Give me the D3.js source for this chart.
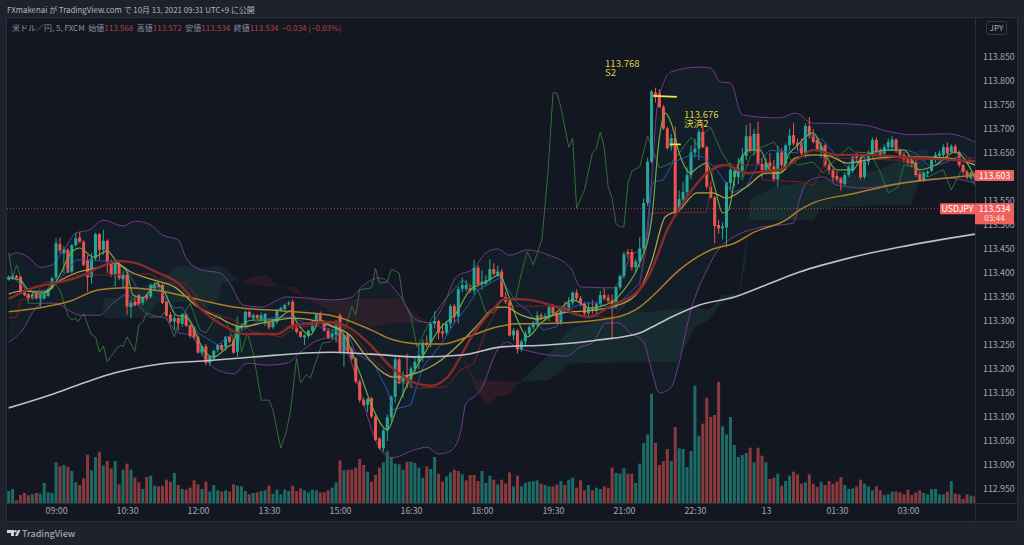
<!DOCTYPE html>
<html>
<head>
<meta charset="utf-8">
<script src="https://cdn.jsdelivr.net/npm/d3@7"></script>
<style>
html, body { margin: 0; padding: 0; background: #1e222d; overflow: hidden; }
text { font-family: "Noto Sans CJK JP", "Noto Sans", sans-serif; }
</style>
</head>
<body>
<div id="chart"></div>
<script>
const width = 1024;
const height = 545;

// 5 minute bars
const opens = [
113.386,113.388,113.394,113.392,113.361,113.356,113.347,113.356,113.347,113.347,
113.352,113.368,113.391,113.460,113.441,113.448,113.403,113.458,113.474,113.465,
113.427,113.392,113.431,113.481,113.448,113.467,113.422,113.396,113.419,113.387,
113.396,113.329,113.340,113.354,113.338,113.354,113.351,113.368,113.375,113.375,
113.340,113.313,113.299,113.306,113.294,113.314,113.291,113.288,113.267,113.234,
113.247,113.213,113.222,113.240,113.250,113.246,113.267,113.259,113.236,113.285,
113.292,113.319,113.306,113.312,113.304,113.296,113.296,113.287,113.298,113.323,
113.325,113.336,113.340,113.287,113.278,113.266,113.269,113.280,113.295,113.315,
113.295,113.280,113.267,113.271,113.312,113.236,113.273,113.241,113.222,113.174,
113.135,113.125,113.139,113.101,113.055,113.035,113.072,113.099,113.142,113.220,
113.170,113.187,113.178,113.201,113.215,113.229,113.255,113.255,113.294,113.300,
113.278,113.276,113.295,113.331,113.309,113.367,113.367,113.368,113.363,113.411,
113.377,113.378,113.385,113.408,113.396,113.403,113.350,113.340,113.270,113.280,
113.241,113.257,113.274,113.287,113.293,113.312,113.307,113.309,113.329,113.316,
113.297,113.326,113.322,113.338,113.359,113.347,113.337,113.316,113.328,113.321,
113.335,113.354,113.349,113.343,113.331,113.370,113.394,113.444,113.444,113.412,
113.424,113.451,113.546,113.632,113.776,113.774,113.746,113.701,113.663,113.681,
113.533,113.553,113.569,113.604,113.651,113.659,113.694,113.662,113.580,113.557,
113.500,113.493,113.495,113.587,113.600,113.600,113.613,113.644,113.685,113.656,
113.690,113.627,113.615,113.630,113.622,113.595,113.651,113.627,113.666,113.687,
113.671,113.670,113.649,113.706,113.687,113.677,113.656,113.666,113.625,113.614,
113.602,113.597,113.585,113.604,113.613,113.643,113.639,113.600,113.632,113.646,
113.677,113.655,113.649,113.662,113.662,113.678,113.656,113.646,113.639,113.635,
113.630,113.606,113.593,113.607,113.613,113.637,113.644,113.646,113.662,113.652,
113.664,113.652,113.625,113.611,113.599,113.607];
const highs = [
113.395,113.397,113.396,113.394,113.363,113.358,113.358,113.358,113.356,113.357,
113.368,113.392,113.472,113.474,113.456,113.452,113.460,113.483,113.485,113.468,
113.437,113.441,113.484,113.483,113.490,113.470,113.428,113.424,113.425,113.405,
113.402,113.345,113.352,113.356,113.352,113.357,113.378,113.380,113.382,113.379,
113.342,113.318,113.312,113.308,113.316,113.316,113.293,113.290,113.270,113.250,
113.252,113.228,113.240,113.252,113.254,113.268,113.270,113.262,113.290,113.295,
113.322,113.322,113.316,113.314,113.318,113.316,113.300,113.304,113.325,113.330,
113.336,113.342,113.345,113.290,113.280,113.272,113.282,113.300,113.316,113.320,
113.300,113.285,113.282,113.302,113.316,113.272,113.276,113.246,113.225,113.178,
113.140,113.140,113.142,113.105,113.058,113.075,113.105,113.145,113.225,113.224,
113.195,113.232,113.205,113.225,113.250,113.262,113.270,113.297,113.320,113.303,
113.295,113.300,113.335,113.335,113.372,113.390,113.385,113.375,113.428,113.416,
113.405,113.395,113.428,113.420,113.415,113.408,113.360,113.343,113.285,113.283,
113.262,113.280,113.292,113.300,113.320,113.317,113.316,113.332,113.335,113.320,
113.326,113.340,113.350,113.362,113.366,113.352,113.340,113.340,113.344,113.340,
113.362,113.368,113.355,113.355,113.372,113.396,113.445,113.450,113.450,113.430,
113.475,113.555,113.640,113.781,113.786,113.783,113.750,113.705,113.690,113.705,
113.572,113.590,113.620,113.665,113.680,113.700,113.712,113.665,113.590,113.560,
113.510,113.505,113.590,113.630,113.620,113.640,113.660,113.708,113.712,113.700,
113.715,113.640,113.640,113.650,113.635,113.665,113.660,113.670,113.700,113.712,
113.680,113.680,113.712,113.725,113.700,113.682,113.672,113.670,113.630,113.618,
113.612,113.600,113.610,113.625,113.645,113.650,113.645,113.640,113.655,113.682,
113.682,113.660,113.668,113.680,113.685,113.680,113.660,113.652,113.645,113.640,
113.640,113.610,113.612,113.615,113.640,113.652,113.655,113.668,113.672,113.668,
113.668,113.655,113.628,113.615,113.612,113.612];
const lows = [
113.384,113.386,113.388,113.362,113.352,113.342,113.345,113.345,113.329,113.345,
113.350,113.366,113.386,113.440,113.400,113.399,113.399,113.455,113.462,113.414,
113.361,113.378,113.425,113.428,113.438,113.400,113.392,113.372,113.385,113.368,
113.313,113.306,113.330,113.333,113.332,113.342,113.347,113.362,113.368,113.335,
113.308,113.296,113.282,113.280,113.288,113.288,113.264,113.262,113.232,113.228,
113.208,113.206,113.218,113.234,113.238,113.238,113.254,113.232,113.226,113.280,
113.285,113.306,113.300,113.304,113.298,113.290,113.282,113.283,113.293,113.320,
113.322,113.332,113.283,113.274,113.265,113.250,113.264,113.276,113.290,113.300,
113.278,113.262,113.262,113.255,113.232,113.205,113.232,113.218,113.170,113.130,
113.122,113.110,113.098,113.050,113.032,113.028,113.050,113.090,113.130,113.168,
113.140,113.160,113.160,113.190,113.200,113.215,113.245,113.245,113.285,113.262,
113.265,113.270,113.285,113.295,113.295,113.360,113.362,113.358,113.355,113.370,
113.365,113.372,113.380,113.395,113.392,113.350,113.335,113.268,113.260,113.232,
113.236,113.250,113.268,113.282,113.288,113.302,113.300,113.300,113.312,113.295,
113.292,113.318,113.316,113.332,113.342,113.330,113.312,113.310,113.315,113.316,
113.330,113.343,113.338,113.264,113.325,113.365,113.388,113.430,113.405,113.400,
113.412,113.445,113.540,113.628,113.755,113.745,113.698,113.657,113.655,113.520,
113.525,113.545,113.555,113.595,113.640,113.635,113.660,113.575,113.555,113.462,
113.482,113.470,113.455,113.570,113.580,113.585,113.600,113.635,113.650,113.645,
113.625,113.600,113.605,113.610,113.590,113.580,113.620,113.615,113.655,113.665,
113.655,113.645,113.640,113.680,113.670,113.655,113.640,113.620,113.605,113.590,
113.590,113.572,113.582,113.600,113.608,113.630,113.595,113.596,113.625,113.642,
113.650,113.640,113.645,113.655,113.655,113.650,113.638,113.630,113.625,113.620,
113.600,113.590,113.590,113.600,113.610,113.630,113.640,113.640,113.640,113.648,
113.648,113.620,113.605,113.595,113.595,113.590];
const closes = [
113.392,113.394,113.390,113.363,113.354,113.347,113.356,113.347,113.354,113.355,
113.366,113.389,113.462,113.447,113.449,113.401,113.458,113.472,113.465,113.417,
113.391,113.430,113.481,113.448,113.467,113.424,113.396,113.419,113.389,113.398,
113.330,113.338,113.333,113.336,113.349,113.347,113.375,113.375,113.370,113.338,
113.311,113.299,113.306,113.295,113.314,113.290,113.269,113.266,113.234,113.248,
113.213,113.227,113.238,113.250,113.240,113.267,113.257,113.234,113.290,113.290,
113.319,113.309,113.312,113.306,113.312,113.315,113.287,113.298,113.323,113.327,
113.333,113.337,113.288,113.277,113.267,113.270,113.280,113.296,113.316,113.302,
113.280,113.266,113.274,113.293,113.236,113.271,113.236,113.222,113.174,113.135,
113.125,113.137,113.101,113.052,113.035,113.072,113.099,113.142,113.220,113.170,
113.187,113.177,113.201,113.215,113.229,113.255,113.250,113.294,113.300,113.276,
113.274,113.294,113.331,113.309,113.366,113.375,113.375,113.363,113.411,113.377,
113.382,113.385,113.408,113.398,113.403,113.350,113.340,113.270,113.280,113.241,
113.257,113.274,113.287,113.294,113.312,113.308,113.310,113.329,113.316,113.297,
113.322,113.322,113.338,113.359,113.347,113.337,113.316,113.328,113.321,113.335,
113.354,113.347,113.342,113.331,113.370,113.394,113.439,113.439,113.412,113.424,
113.451,113.546,113.632,113.778,113.766,113.745,113.701,113.660,113.681,113.524,
113.554,113.569,113.604,113.651,113.659,113.694,113.662,113.580,113.557,113.498,
113.493,113.497,113.588,113.615,113.612,113.618,113.644,113.685,113.656,113.690,
113.627,113.615,113.630,113.622,113.595,113.651,113.625,113.666,113.686,113.670,
113.666,113.649,113.706,113.685,113.673,113.657,113.664,113.625,113.614,113.599,
113.595,113.587,113.604,113.621,113.642,113.639,113.599,113.632,113.649,113.677,
113.655,113.646,113.662,113.673,113.678,113.656,113.646,113.637,113.630,113.628,
113.604,113.593,113.609,113.611,113.637,113.646,113.649,113.662,113.649,113.664,
113.652,113.625,113.611,113.599,113.609,113.597];

// volume bar heights, arbitrary units
const volumes = [
36,42,8,24,30,23,26,30,28,60,32,30,122,110,114,108,96,62,54,74,
145,98,138,154,112,126,104,126,56,100,118,100,76,62,42,78,82,52,50,52,
70,64,90,54,42,40,46,68,56,42,64,34,54,38,34,38,34,56,52,50,
36,26,30,32,36,38,52,28,40,26,40,36,52,36,44,38,32,40,38,32,
32,38,46,62,128,98,100,100,106,132,114,94,64,84,106,122,155,136,118,116,
100,124,124,120,106,76,110,102,138,88,64,80,92,100,96,86,68,84,84,66,
96,60,82,70,56,70,58,92,50,82,50,60,64,66,68,58,54,50,50,56,
66,54,70,76,46,68,38,54,38,46,42,50,46,106,90,88,104,88,88,60,
118,180,206,328,180,114,126,162,126,228,164,162,108,156,352,202,238,316,258,264,
364,230,206,258,174,138,144,150,166,122,166,142,122,72,76,88,52,66,82,94,
86,58,62,86,58,48,64,54,66,58,64,78,54,42,44,50,70,58,50,38,
50,38,24,26,34,34,32,26,40,24,32,38,30,26,42,42,26,26,34,66,
28,26,12,26,22,20];
// 1 = teal, 0 = red
const volumeUp = [
1,1,0,0,0,0,1,0,1,1,1,1,1,0,1,0,1,1,0,0,
0,1,1,0,1,0,0,1,0,1,0,1,0,0,1,0,1,1,0,0,
0,0,1,0,1,0,0,0,0,1,0,1,1,1,0,1,0,0,1,1,
1,0,1,0,1,1,0,1,1,1,1,1,0,0,0,1,1,1,1,0,
0,0,1,1,0,1,0,0,0,0,0,1,0,0,0,1,1,1,1,1,
1,0,1,1,1,1,0,1,1,0,0,1,1,0,0,1,0,0,0,0,
1,1,1,0,1,0,0,0,1,0,1,1,1,1,1,0,1,1,0,0,
1,0,1,1,0,0,0,1,0,1,1,0,0,0,1,1,1,0,0,1,
1,1,1,1,0,0,0,0,1,0,1,1,1,1,1,1,0,0,0,0,
0,1,1,1,1,1,1,1,0,1,0,0,1,0,0,1,0,1,1,0,
0,0,1,0,0,0,1,0,0,0,0,0,1,1,1,0,0,1,1,1,
0,0,1,1,1,0,0,0,0,0,0,0,1,1,1,1,1,1,0,1,
0,0,0,0,1,0];

// indicator lines as [bar, price]
const sma200 = [[0,113.119],[10.5,113.146],[19,113.171],[27,113.192],[38,113.210],[50,113.217],[62,113.225],[81.5,113.235],[92,113.231],[104,113.225],[115,113.229],[125,113.246],[136.5,113.250],[149,113.260],[160,113.275],[163,113.287],[169,113.312],[175,113.333],[184,113.350],[192,113.375],[200.5,113.402],[213,113.431],[226,113.454],[245,113.481]];
const ema100 = [[0,113.319],[9,113.329],[15,113.340],[23,113.365],[30,113.369],[38,113.363],[48.5,113.344],[57,113.329],[69.5,113.321],[81.5,113.312],[92,113.281],[97,113.262],[105,113.252],[110,113.252],[117,113.269],[124,113.288],[129,113.294],[140.5,113.296],[153,113.306],[160,113.329],[163,113.350],[170,113.406],[178,113.448],[184,113.462],[189,113.485],[197,113.510],[200.5,113.531],[204,113.546],[214,113.565],[225,113.585],[238,113.598],[245,113.604]];
const ema50 = [[0,113.346],[7,113.371],[12,113.379],[19,113.396],[23,113.412],[28,113.425],[32,113.421],[38,113.400],[43,113.379],[48.5,113.327],[55,113.288],[59.5,113.273],[68,113.273],[72,113.290],[81.5,113.298],[86,113.288],[91,113.256],[97,113.204],[103,113.171],[107,113.165],[111,113.181],[118,113.275],[122,113.317],[126,113.346],[132,113.344],[139,113.329],[147,113.308],[153,113.333],[160,113.365],[163,113.406],[167,113.490],[171,113.546],[177,113.608],[182,113.625],[187,113.608],[192,113.612],[195.5,113.615],[200.5,113.640],[204,113.656],[210,113.646],[217,113.646],[229,113.640],[245,113.633]];
const ema20 = [[0,113.356],[3,113.362],[9,113.360],[12,113.379],[17,113.400],[23,113.412],[27,113.421],[31,113.402],[36,113.387],[42,113.371],[48,113.329],[53,113.308],[59,113.288],[64.5,113.296],[72,113.306],[79,113.298],[81.5,113.290],[86.5,113.271],[90,113.233],[95,113.192],[97.5,113.183],[103.5,113.192],[108.5,113.212],[113.5,113.246],[118.5,113.288],[124,113.329],[126,113.329],[130,113.312],[134,113.304],[140.5,113.317],[149,113.323],[157.5,113.344],[160,113.365],[163,113.423],[166.5,113.517],[170,113.531],[174.5,113.567],[178.5,113.567],[182,113.556],[187,113.579],[192,113.608],[195.5,113.608],[199.5,113.640],[204,113.646],[208,113.644],[212.5,113.629],[221,113.640],[229,113.642],[238,113.640],[245,113.625]];
const ema8 = [[0,113.390],[3,113.385],[4.5,113.369],[8,113.356],[10.5,113.365],[13,113.396],[16,113.444],[18,113.452],[21.5,113.433],[25,113.446],[27.5,113.421],[30,113.402],[31.5,113.354],[34,113.348],[37.5,113.379],[39.5,113.360],[42.5,113.312],[45,113.308],[50,113.233],[52,113.225],[55.5,113.246],[57,113.254],[58,113.281],[62,113.302],[65.5,113.302],[68,113.304],[71.5,113.321],[73,113.298],[76.5,113.271],[79,113.302],[81.5,113.292],[85,113.271],[89,113.192],[92.5,113.115],[96,113.073],[98.5,113.121],[102,113.183],[106,113.240],[109,113.281],[113.5,113.317],[117,113.365],[121,113.381],[124.5,113.396],[126.5,113.358],[129,113.302],[131.5,113.267],[135,113.296],[139,113.319],[143,113.344],[147.5,113.327],[153,113.340],[156,113.365],[160,113.421],[163,113.510],[165,113.683],[166.5,113.733],[168,113.712],[170,113.650],[173,113.608],[174,113.615],[177,113.629],[179,113.579],[181,113.525],[182.5,113.531],[184.5,113.615],[188,113.656],[190.5,113.656],[193,113.615],[195.5,113.608],[198,113.650],[199.5,113.662],[204,113.692],[206.5,113.656],[210,113.615],[214,113.615],[216.5,113.642],[222.5,113.656],[227,113.656],[231,113.615],[235,113.625],[240,113.652],[245,113.600]];
const tenkan = [[0,113.390],[1,113.392],[4,113.369],[6,113.362],[10.5,113.365],[15,113.406],[17,113.427],[21.5,113.427],[27.5,113.421],[30,113.406],[32.5,113.369],[35,113.365],[37.5,113.375],[40,113.344],[42,113.327],[44,113.329],[48,113.275],[53,113.250],[55.5,113.267],[57,113.271],[64,113.302],[68,113.308],[72,113.308],[75,113.296],[79,113.288],[86,113.275],[88,113.233],[92.5,113.212],[96,113.156],[97.5,113.115],[102,113.125],[105,113.204],[109.5,113.250],[113,113.296],[116,113.327],[119,113.365],[124.5,113.390],[129,113.337],[131.5,113.323],[135.5,113.281],[139,113.288],[140.5,113.319],[145.5,113.337],[150,113.337],[153,113.323],[160,113.379],[162,113.483],[163,113.579],[163.5,113.590],[166,113.594],[168.5,113.631],[173,113.646],[176,113.642],[179.5,113.615],[183.5,113.567],[187,113.579],[190.5,113.635],[193,113.656],[200,113.650],[202.5,113.688],[206.5,113.677],[210,113.642],[212.5,113.621],[217.5,113.642],[222.5,113.656],[227.5,113.656],[230,113.650],[233.5,113.621],[238,113.631],[242,113.650],[245,113.625]];
const kijun = [[0,113.306],[2,113.308],[3,113.344],[6,113.348],[9,113.381],[12,113.381],[15.5,113.396],[24,113.396],[36,113.398],[39,113.379],[45,113.379],[49,113.337],[51,113.319],[57,113.302],[62,113.277],[69,113.267],[72.5,113.285],[81.5,113.296],[86.5,113.281],[92.5,113.219],[98.5,113.177],[103.5,113.160],[111,113.163],[114.5,113.198],[118,113.212],[121,113.281],[124,113.327],[128,113.331],[141,113.331],[145.5,113.312],[153,113.306],[160,113.371],[161.5,113.442],[163,113.525],[177,113.527],[178.5,113.608],[179,113.625],[190.5,113.625],[191,113.594],[200.5,113.590],[204,113.583],[206.5,113.621],[207,113.640],[226,113.635],[245,113.640]];
const bbUpper = [[0,113.435],[2,113.442],[5,113.433],[8,113.412],[11,113.417],[14,113.448],[17,113.483],[20.5,113.490],[24,113.510],[29,113.498],[32,113.508],[36,113.500],[39,113.479],[43,113.469],[45,113.431],[49,113.406],[53.5,113.400],[56,113.379],[59.5,113.333],[64,113.329],[70.5,113.350],[75,113.348],[81.5,113.344],[86.5,113.348],[90,113.375],[94,113.390],[98.5,113.360],[103.5,113.302],[107,113.296],[110,113.329],[113.5,113.392],[118,113.410],[121,113.442],[124,113.450],[127,113.437],[131.5,113.448],[137,113.437],[142.5,113.410],[145,113.371],[153,113.369],[156,113.400],[157.5,113.433],[161,113.454],[163,113.594],[164.5,113.750],[168,113.819],[175,113.829],[178,113.827],[180.5,113.798],[183,113.796],[186,113.729],[195.5,113.723],[199.5,113.733],[204,113.712],[206.5,113.712],[217,113.708],[223.5,113.694],[229,113.688],[238,113.690],[245,113.673]];
const bbLower = [[0,113.256],[4,113.287],[6,113.317],[9,113.337],[12,113.337],[15,113.323],[18,113.312],[23,113.312],[26.5,113.337],[30,113.354],[33.5,113.327],[36,113.308],[39,113.308],[43,113.275],[46,113.271],[50,113.219],[53,113.198],[57,113.190],[60.5,113.212],[65.5,113.208],[70.5,113.212],[74,113.235],[77,113.254],[81.5,113.265],[85,113.250],[89,113.156],[93,113.052],[95,113.025],[97,113.015],[103.5,113.033],[106,113.037],[109,113.023],[112,113.029],[114.5,113.067],[116,113.129],[118,113.142],[119.5,113.154],[124,113.240],[126.5,113.256],[128.5,113.246],[132,113.237],[137,113.229],[141.5,113.227],[145,113.246],[148,113.254],[151.5,113.296],[154.5,113.296],[157.5,113.275],[161,113.256],[163,113.198],[165,113.150],[168,113.162],[169.5,113.198],[173,113.323],[177,113.406],[180.5,113.454],[190,113.494],[195.5,113.500],[199,113.504],[200.5,113.552],[202.5,113.590],[206.5,113.600],[210,113.583],[217,113.577],[225.5,113.587],[238,113.598],[245,113.587]];
const lagging = [[0,113.442],[1,113.390],[2,113.417],[3.5,113.381],[5,113.337],[8,113.337],[9.5,113.360],[11,113.385],[13,113.365],[15,113.312],[16,113.302],[17,113.306],[17.5,113.298],[19,113.315],[21,113.271],[22,113.267],[23,113.235],[24,113.248],[25,113.215],[27.5,113.244],[28.5,113.250],[29,113.246],[30,113.267],[32,113.237],[33,113.292],[34,113.298],[35,113.317],[36.5,113.312],[38.5,113.308],[39.5,113.319],[42,113.267],[43,113.296],[44,113.308],[46,113.337],[48.5,113.281],[50,113.275],[53,113.315],[54.5,113.302],[55.5,113.292],[57,113.260],[58,113.310],[59,113.235],[60.5,113.275],[62,113.233],[64,113.135],[66,113.135],[67,113.115],[68,113.073],[69,113.035],[70.5,113.073],[71.5,113.115],[73,113.223],[74,113.171],[75.5,113.188],[76.5,113.181],[79.5,113.254],[81.5,113.256],[85.5,113.287],[87,113.331],[88,113.312],[89,113.365],[92,113.369],[93,113.410],[94,113.379],[96,113.381],[97,113.408],[99,113.400],[100,113.344],[102,113.308],[103.5,113.246],[107,113.302],[110.5,113.344],[115,113.385],[119,113.365],[121,113.317],[123,113.317],[125,113.344],[128.5,113.344],[130,113.400],[131.5,113.444],[133,113.417],[135.2,113.469],[136.8,113.615],[138,113.775],[139,113.775],[140,113.746],[142,113.662],[143,113.681],[144,113.535],[146,113.573],[148,113.650],[149,113.660],[150,113.694],[151,113.662],[152,113.579],[153,113.556],[154,113.502],[155,113.496],[156,113.496],[157,113.587],[158,113.612],[160,113.621],[162,113.685],[163.5,113.652],[165,113.619],[168,113.629],[170,113.650],[173,113.683],[174.5,113.667],[176,113.688],[178,113.704],[180.5,113.656],[182.5,113.629],[186,113.594],[188,113.642],[190.5,113.660],[194,113.673],[195.5,113.656],[200,113.625],[204,113.631],[206.5,113.608],[210,113.640],[213,113.662],[214.5,113.652],[218.5,113.650],[221,113.610],[223,113.567],[225.5,113.579],[227,113.625],[229.5,113.621],[233,113.600],[237,113.615],[239,113.573],[242,113.621],[245,113.583]];

// ichimoku cloud outlines, clockwise as [bar, price]
const cloudGreen1 = [[24,113.348],[27.5,113.348],[30,113.365],[34,113.371],[40,113.396],[43,113.415],[50.5,113.412],[53.5,113.417],[58.5,113.385],[54,113.379],[53,113.344],[49,113.323],[45,113.340],[37.5,113.338],[35,113.306],[24,113.306]];
const cloudRed1 = [[59,113.381],[62,113.392],[65.5,113.396],[68,113.375],[74,113.354],[81.5,113.344],[98.5,113.348],[102.5,113.319],[107,113.296],[96,113.296],[92.5,113.287],[85,113.305],[75.5,113.348],[73,113.371],[65.5,113.371]];
const cloudRed2 = [[112,113.281],[114.5,113.233],[118.5,113.177],[129.5,113.173],[127,113.146],[124,113.142],[121,113.125],[118.5,113.156]];
const cloudGreen2 = [[129.5,113.173],[135.5,113.219],[142.5,113.285],[149,113.298],[157.5,113.317],[163,113.319],[166.5,113.323],[173.5,113.329],[177.5,113.323],[181,113.354],[185,113.356],[187.5,113.496],[188,113.552],[194,113.579],[206,113.594],[221,113.615],[231,113.656],[233,113.658],[233,113.642],[231,113.594],[229,113.542],[221,113.542],[206.5,113.535],[206,113.531],[204,113.510],[187.5,113.510],[187,113.427],[185,113.348],[181,113.340],[177.5,113.302],[174,113.287],[169.5,113.215],[142.5,113.212],[137,113.177]];

// drawn position labels
const tradePrices = [113.768, 113.676];
const tradeNames = ["S2", "決済2"];
const tradeLinePrices = [113.769, 113.668];
const tradeBars = [[163.4, 169.4], [167.6, 170.4]];

const priceTicks = [112.95,113,113.05,113.1,113.15,113.2,113.25,113.3,113.35,113.4,113.45,113.5,113.55,113.65,113.7,113.75,113.8,113.85];
const timeTickBars = [12,30,48,66,84,102,120,138,156,174,192,210,228];
const timeTickLabels = ["09:00","10:30","12:00","13:30","15:00","16:30","18:00","19:30","21:00","22:30","13","01:30","03:00"];

const lastPrice = 113.534;
const markPrice = 113.603;

const plot = { left: 7, right: 975, top: 17, bottom: 503 };

const upColor = "#26a69a";
const downColor = "#ef5350";

const svg = d3.select("#chart")
  .append("svg")
  .attr("width", width)
  .attr("height", height)
  .style("display", "block");

const xScale = d3.scaleLinear().domain([0, 246]).range([8.7, 978.9]);
const yScale = d3.scaleLinear().domain([112.9208, 113.9333]).range([503, 17]);
const volScale = d3.scaleLinear().domain([0, 364]).range([503, 381.7]);

// Page and pane
svg.append("rect").attr("width", width).attr("height", height).attr("fill", "#1e222d");
svg.append("rect")
  .attr("x", 6.5).attr("y", 17.5)
  .attr("width", 1011).attr("height", 504)
  .attr("fill", "#131722").attr("stroke", "#2a2e39");

svg.append("clipPath").attr("id", "plot-clip")
  .append("rect")
  .attr("x", plot.left).attr("y", plot.top)
  .attr("width", plot.right - plot.left).attr("height", plot.bottom - plot.top);

const pane = svg.append("g").attr("clip-path", "url(#plot-clip)");

const line = d3.line().x(d => xScale(d[0])).y(d => yScale(d[1]));
const smooth = d3.line().x(d => xScale(d[0])).y(d => yScale(d[1])).curve(d3.curveMonotoneX);

// Bollinger fill
const bbArea = bbUpper.concat(bbLower.slice().reverse());
pane.append("path").attr("d", line(bbArea) + "Z").attr("fill", "#1b3a3f").attr("opacity", 0.2);

// Cloud
[[cloudGreen1, "#235f50", 0.2], [cloudGreen2, "#235f50", 0.24], [cloudRed1, "#6e2530", 0.25], [cloudRed2, "#6e2530", 0.3]].forEach(function(c) {
  pane.append("path").attr("d", line(c[0]) + "Z").attr("fill", c[1]).attr("opacity", c[2]);
});

// Volume
pane.selectAll(".vol")
  .data(volumes)
  .enter()
  .append("rect")
  .attr("x", (d, i) => xScale(i) - 1.5)
  .attr("width", 3)
  .attr("y", d => volScale(d))
  .attr("height", d => volScale(0) - volScale(d))
  .attr("fill", (d, i) => volumeUp[i] ? "#1d6b65" : "#8a3a3d");

// Thin lines below the candles
pane.append("path").attr("d", line(lagging)).attr("fill", "none").attr("stroke", "#2f6f35").attr("stroke-width", 1);
pane.append("path").attr("d", smooth(bbUpper)).attr("fill", "none").attr("stroke", "#74398f").attr("stroke-width", 1);
pane.append("path").attr("d", smooth(bbLower)).attr("fill", "none").attr("stroke", "#74398f").attr("stroke-width", 1);

// Candles
pane.selectAll(".wick")
  .data(opens)
  .enter()
  .append("line")
  .attr("x1", (d, i) => xScale(i))
  .attr("x2", (d, i) => xScale(i))
  .attr("y1", (d, i) => yScale(highs[i]))
  .attr("y2", (d, i) => yScale(lows[i]))
  .attr("stroke", (d, i) => closes[i] >= d ? upColor : downColor)
  .attr("stroke-width", 1);

pane.selectAll(".body")
  .data(opens)
  .enter()
  .append("rect")
  .attr("x", (d, i) => xScale(i) - 1.5)
  .attr("width", 3)
  .attr("y", (d, i) => yScale(Math.max(d, closes[i])))
  .attr("height", (d, i) => Math.max(1, Math.abs(yScale(d) - yScale(closes[i]))))
  .attr("fill", (d, i) => closes[i] >= d ? upColor : downColor);

// Indicators over the candles
pane.append("path").attr("d", line(tenkan)).attr("fill", "none").attr("stroke", "#2356b0").attr("stroke-width", 1);
pane.append("path").attr("d", line(kijun)).attr("fill", "none").attr("stroke", "#7d2020").attr("stroke-width", 1);
pane.append("path").attr("d", smooth(ema8)).attr("fill", "none").attr("stroke", "#6aa845").attr("stroke-width", 1.2);
pane.append("path").attr("d", smooth(ema20)).attr("fill", "none").attr("stroke", "#a8a144").attr("stroke-width", 1.3);
pane.append("path").attr("d", smooth(ema100)).attr("fill", "none").attr("stroke", "#aa7e2a").attr("stroke-width", 1.5);
pane.append("path").attr("d", smooth(ema50)).attr("fill", "none").attr("stroke", "#8a2a2a").attr("stroke-width", 2.4);
pane.append("path").attr("d", smooth(sma200)).attr("fill", "none").attr("stroke", "#bfc1c7").attr("stroke-width", 1.6);

// Last price dotted line
pane.append("line")
  .attr("x1", plot.left).attr("x2", plot.right)
  .attr("y1", yScale(lastPrice)).attr("y2", yScale(lastPrice))
  .attr("stroke", "#ef5350").attr("stroke-width", 1)
  .attr("stroke-dasharray", "1,2").attr("opacity", 0.7);

// Trade markers
tradeLinePrices.forEach(function(p, i) {
  pane.append("line")
    .attr("x1", xScale(tradeBars[i][0]))
    .attr("x2", xScale(tradeBars[i][1]))
    .attr("y1", yScale(p))
    .attr("y2", yScale(p) + (i == 0 ? 1 : 0))
    .attr("stroke", "#f5e94a")
    .attr("stroke-width", 1.6);
});

const labelPos = [[605, 66.5], [684, 117.5]];
tradePrices.forEach(function(p, i) {
  svg.append("text").attr("x", labelPos[i][0]).attr("y", labelPos[i][1])
    .attr("fill", "#dcd23c").attr("font-size", 9.6).text(p.toFixed(3));
  svg.append("text").attr("x", labelPos[i][0]).attr("y", labelPos[i][1] + 9.5)
    .attr("fill", "#dcd23c").attr("font-size", 9.6).text(tradeNames[i]);
});

// Axes
svg.append("line").attr("x1", plot.right + 0.5).attr("x2", plot.right + 0.5).attr("y1", 17).attr("y2", 521).attr("stroke", "#2a2e39");
svg.append("line").attr("x1", 7).attr("x2", 1017).attr("y1", plot.bottom + 0.5).attr("y2", plot.bottom + 0.5).attr("stroke", "#2a2e39");

const yAxis = svg.append("g")
  .attr("transform", `translate(${plot.right}, 0)`)
  .call(d3.axisRight(yScale).tickValues(priceTicks).tickFormat(d3.format(".3f")).tickSize(0).tickPadding(8));
yAxis.select(".domain").remove();
yAxis.selectAll("text").attr("fill", "#a3a6af").attr("font-size", 8.8).attr("font-family", "'Noto Sans', sans-serif");

const xAxis = svg.append("g")
  .attr("transform", `translate(0, ${plot.bottom})`)
  .call(d3.axisBottom(xScale).tickValues(timeTickBars).tickFormat((d, i) => timeTickLabels[i]).tickSize(0).tickPadding(5));
xAxis.select(".domain").remove();
xAxis.selectAll("text").attr("fill", "#a3a6af").attr("font-size", 8.8).attr("font-family", "'Noto Sans', sans-serif");

// Price labels on the axis
function priceBox(x, y, w, h, label, sub) {
  svg.append("rect").attr("x", x).attr("y", y).attr("width", w).attr("height", h).attr("rx", 1).attr("fill", "#f0605c");
  svg.append("text").attr("x", x + w / 2).attr("y", y + 8.5).attr("text-anchor", "middle")
    .attr("fill", "#fff").attr("font-size", 8.8).attr("font-family", "'Noto Sans', sans-serif").text(label);
  if (sub) {
    svg.append("text").attr("x", x + w / 2).attr("y", y + 18).attr("text-anchor", "middle")
      .attr("fill", "#ffe3e2").attr("font-size", 8.2).attr("font-family", "'Noto Sans', sans-serif").text(sub);
  }
}
priceBox(975, yScale(markPrice) - 5.5, 39, 11, markPrice.toFixed(3));
priceBox(940, yScale(lastPrice) - 5.5, 35, 11, "USDJPY");
priceBox(975, yScale(lastPrice) - 5.5, 39, 21, lastPrice.toFixed(3), "03:44");

// JPY tag
svg.append("rect").attr("x", 986.5).attr("y", 21.5).attr("width", 20).attr("height", 13).attr("rx", 2)
  .attr("fill", "#131722").attr("stroke", "#363a45");
svg.append("text").attr("x", 996.5).attr("y", 31).attr("text-anchor", "middle")
  .attr("fill", "#a3a6af").attr("font-size", 8.2).text("JPY");

// Header
svg.append("text").attr("x", 7).attr("y", 12.5)
  .attr("fill", "#b2b5be").attr("font-size", 7.9)
  .text("FXmakenai が TradingView.com で 10月 13, 2021 09:31 UTC+9 に公開");

const legend = svg.append("text").attr("x", 12).attr("y", 31).attr("font-size", 8);
const legendParts = [
  ["米ドル／円, 5, FXCM  ", "#8d909a"], ["始値", "#8d909a"], ["113.568  ", "#b8403f"],
  ["高値", "#8d909a"], ["113.572  ", "#b8403f"], ["安値", "#8d909a"], ["113.534  ", "#b8403f"],
  ["終値", "#8d909a"], ["113.534  ", "#b8403f"], ["−0.034 (−0.03%)", "#b8403f"]
];
legend.attr("xml:space", "preserve");
legendParts.forEach(function(d) {
  legend.append("tspan").attr("fill", d[1]).text(d[0]);
});

// Footer logo
const logo = svg.append("g").attr("fill", "#d1d4dc");
logo.append("path").attr("d", "M7 530h7v6h-3v-3h-4z");
logo.append("circle").attr("cx", 15.5).attr("cy", 531.2).attr("r", 1.2);
logo.append("path").attr("d", "M18 530h2.5l-3 6h-2.5z");
svg.append("text").attr("x", 22).attr("y", 537)
  .attr("fill", "#a3a6af").attr("font-size", 9).attr("font-weight", 500).text("TradingView");
</script>
</body>
</html>
